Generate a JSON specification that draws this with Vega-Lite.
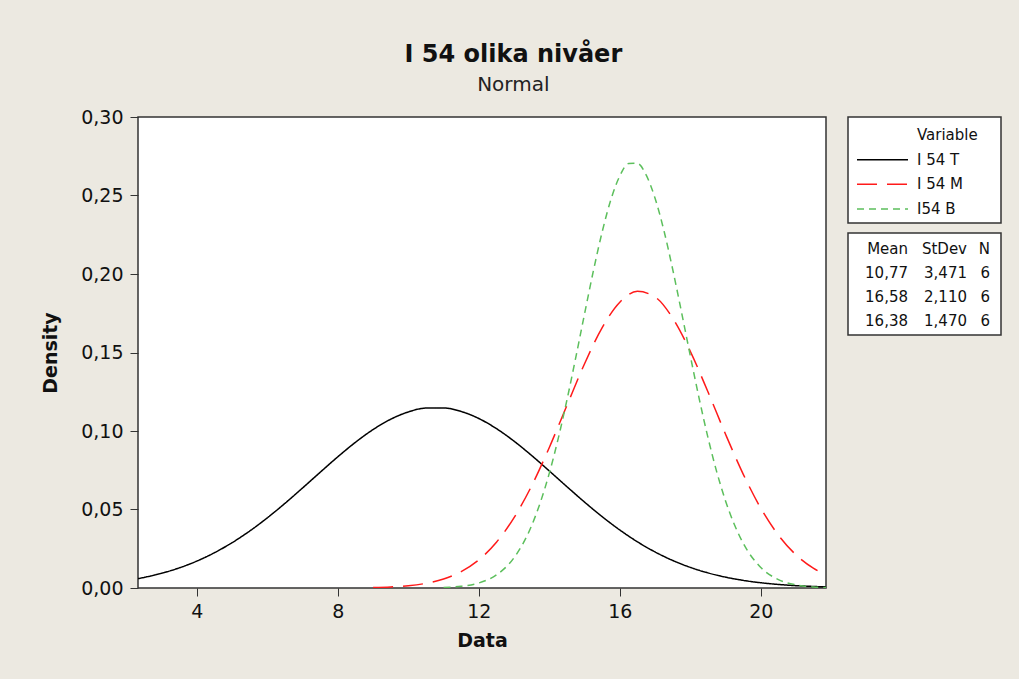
{
  "$schema": "https://vega.github.io/schema/vega-lite/v6.json",
  "background": "#ECE9E1",
  "padding": {"left": 40, "top": 43, "right": 18, "bottom": 32},
  "title": {
    "text": "I 54 olika nivåer",
    "subtitle": "Normal",
    "anchor": "middle",
    "frame": "bounds",
    "dx": -8,
    "offset": 12,
    "font": "DejaVu Sans",
    "fontSize": 24,
    "fontWeight": "bold",
    "color": "#111111",
    "subtitleFont": "DejaVu Sans",
    "subtitleFontSize": 20,
    "subtitleColor": "#222222",
    "subtitlePadding": 8
  },
  "datasets": {
    "curves": [
      {"variable": "I 54 T", "data": 2.33, "density": 0.005977},
      {"variable": "I 54 T", "data": 2.5, "density": 0.006725},
      {"variable": "I 54 T", "data": 3, "density": 0.00938},
      {"variable": "I 54 T", "data": 3.5, "density": 0.012817},
      {"variable": "I 54 T", "data": 4, "density": 0.017156},
      {"variable": "I 54 T", "data": 4.5, "density": 0.022488},
      {"variable": "I 54 T", "data": 5, "density": 0.02887},
      {"variable": "I 54 T", "data": 5.5, "density": 0.0363},
      {"variable": "I 54 T", "data": 6, "density": 0.04471},
      {"variable": "I 54 T", "data": 6.5, "density": 0.053933},
      {"variable": "I 54 T", "data": 7, "density": 0.063726},
      {"variable": "I 54 T", "data": 7.5, "density": 0.073742},
      {"variable": "I 54 T", "data": 8, "density": 0.083596},
      {"variable": "I 54 T", "data": 8.5, "density": 0.09281},
      {"variable": "I 54 T", "data": 9, "density": 0.100929},
      {"variable": "I 54 T", "data": 9.5, "density": 0.1075},
      {"variable": "I 54 T", "data": 10, "density": 0.112147},
      {"variable": "I 54 T", "data": 10.5, "density": 0.114593},
      {"variable": "I 54 T", "data": 11, "density": 0.114687},
      {"variable": "I 54 T", "data": 11.5, "density": 0.112425},
      {"variable": "I 54 T", "data": 12, "density": 0.107944},
      {"variable": "I 54 T", "data": 12.5, "density": 0.101515},
      {"variable": "I 54 T", "data": 13, "density": 0.093506},
      {"variable": "I 54 T", "data": 13.5, "density": 0.08436},
      {"variable": "I 54 T", "data": 14, "density": 0.074546},
      {"variable": "I 54 T", "data": 14.5, "density": 0.064521},
      {"variable": "I 54 T", "data": 15, "density": 0.054698},
      {"variable": "I 54 T", "data": 15.5, "density": 0.045418},
      {"variable": "I 54 T", "data": 16, "density": 0.036938},
      {"variable": "I 54 T", "data": 16.5, "density": 0.029426},
      {"variable": "I 54 T", "data": 17, "density": 0.022959},
      {"variable": "I 54 T", "data": 17.5, "density": 0.017542},
      {"variable": "I 54 T", "data": 18, "density": 0.013128},
      {"variable": "I 54 T", "data": 18.5, "density": 0.009625},
      {"variable": "I 54 T", "data": 19, "density": 0.006911},
      {"variable": "I 54 T", "data": 19.5, "density": 0.004861},
      {"variable": "I 54 T", "data": 20, "density": 0.003349},
      {"variable": "I 54 T", "data": 20.5, "density": 0.00226},
      {"variable": "I 54 T", "data": 21, "density": 0.001493},
      {"variable": "I 54 T", "data": 21.5, "density": 0.000967},
      {"variable": "I 54 T", "data": 21.85, "density": 0.000704},
      {"variable": "I 54 M", "data": 9, "density": 0.000298},
      {"variable": "I 54 M", "data": 9.5, "density": 0.000679},
      {"variable": "I 54 M", "data": 10, "density": 0.001462},
      {"variable": "I 54 M", "data": 10.5, "density": 0.002975},
      {"variable": "I 54 M", "data": 11, "density": 0.005728},
      {"variable": "I 54 M", "data": 11.5, "density": 0.010421},
      {"variable": "I 54 M", "data": 12, "density": 0.017928},
      {"variable": "I 54 M", "data": 12.5, "density": 0.029156},
      {"variable": "I 54 M", "data": 13, "density": 0.044823},
      {"variable": "I 54 M", "data": 13.5, "density": 0.065152},
      {"variable": "I 54 M", "data": 14, "density": 0.089534},
      {"variable": "I 54 M", "data": 14.5, "density": 0.116305},
      {"variable": "I 54 M", "data": 15, "density": 0.142861},
      {"variable": "I 54 M", "data": 15.5, "density": 0.165861},
      {"variable": "I 54 M", "data": 16, "density": 0.182061},
      {"variable": "I 54 M", "data": 16.5, "density": 0.188934},
      {"variable": "I 54 M", "data": 17, "density": 0.185362},
      {"variable": "I 54 M", "data": 17.5, "density": 0.171927},
      {"variable": "I 54 M", "data": 18, "density": 0.150747},
      {"variable": "I 54 M", "data": 18.5, "density": 0.124975},
      {"variable": "I 54 M", "data": 19, "density": 0.097948},
      {"variable": "I 54 M", "data": 19.5, "density": 0.072571},
      {"variable": "I 54 M", "data": 20, "density": 0.050837},
      {"variable": "I 54 M", "data": 20.5, "density": 0.033664},
      {"variable": "I 54 M", "data": 21, "density": 0.021074},
      {"variable": "I 54 M", "data": 21.5, "density": 0.012475},
      {"variable": "I 54 M", "data": 21.85, "density": 0.008355},
      {"variable": "I54 B", "data": 11, "density": 0.000335},
      {"variable": "I54 B", "data": 11.5, "density": 0.001098},
      {"variable": "I54 B", "data": 12, "density": 0.003204},
      {"variable": "I54 B", "data": 12.5, "density": 0.008332},
      {"variable": "I54 B", "data": 13, "density": 0.019301},
      {"variable": "I54 B", "data": 13.5, "density": 0.039819},
      {"variable": "I54 B", "data": 14, "density": 0.073183},
      {"variable": "I54 B", "data": 14.25, "density": 0.094989},
      {"variable": "I54 B", "data": 14.5, "density": 0.119792},
      {"variable": "I54 B", "data": 14.75, "density": 0.146768},
      {"variable": "I54 B", "data": 15, "density": 0.174667},
      {"variable": "I54 B", "data": 15.25, "density": 0.201963},
      {"variable": "I54 B", "data": 15.5, "density": 0.226864},
      {"variable": "I54 B", "data": 15.75, "density": 0.247576},
      {"variable": "I54 B", "data": 16, "density": 0.262472},
      {"variable": "I54 B", "data": 16.25, "density": 0.270332},
      {"variable": "I54 B", "data": 16.5, "density": 0.270489},
      {"variable": "I54 B", "data": 16.75, "density": 0.262928},
      {"variable": "I54 B", "data": 17, "density": 0.248292},
      {"variable": "I54 B", "data": 17.25, "density": 0.227797},
      {"variable": "I54 B", "data": 17.5, "density": 0.203016},
      {"variable": "I54 B", "data": 17.75, "density": 0.175785},
      {"variable": "I54 B", "data": 18, "density": 0.147872},
      {"variable": "I54 B", "data": 18.25, "density": 0.120839},
      {"variable": "I54 B", "data": 18.5, "density": 0.095923},
      {"variable": "I54 B", "data": 18.75, "density": 0.073992},
      {"variable": "I54 B", "data": 19, "density": 0.055442},
      {"variable": "I54 B", "data": 19.5, "density": 0.028539},
      {"variable": "I54 B", "data": 20, "density": 0.013081},
      {"variable": "I54 B", "data": 20.5, "density": 0.005344},
      {"variable": "I54 B", "data": 21, "density": 0.001944},
      {"variable": "I54 B", "data": 21.5, "density": 0.00063},
      {"variable": "I54 B", "data": 21.85, "density": 0.000267}
    ],
    "legend": [
      {"label": "Variable"},
      {"label": "I 54 T", "variable": "I 54 T"},
      {"label": "I 54 M", "variable": "I 54 M"},
      {"label": "I54 B", "variable": "I54 B"}
    ],
    "stats": [
      {"row": "header", "Mean": "Mean", "StDev": "StDev", "N": "N"},
      {"row": "I 54 T", "Mean": "10,77", "StDev": "3,471", "N": "6"},
      {"row": "I 54 M", "Mean": "16,58", "StDev": "2,110", "N": "6"},
      {"row": "I54 B", "Mean": "16,38", "StDev": "1,470", "N": "6"}
    ]
  },
  "bounds": "flush",
  "spacing": 22,
  "hconcat": [
    {
      "width": 688,
      "height": 471,
      "data": {"name": "curves"},
      "mark": {"type": "line", "interpolate": "monotone", "strokeWidth": 1.5, "clip": true},
      "encoding": {
        "x": {
          "field": "data",
          "type": "quantitative",
          "scale": {"domain": [2.33, 21.85], "nice": false, "zero": false},
          "axis": {"title": "Data", "values": [4, 8, 12, 16, 20], "labelFlush": false, "labelPadding": 6, "titlePadding": 10}
        },
        "y": {
          "field": "density",
          "type": "quantitative",
          "scale": {"domain": [0, 0.3], "nice": false},
          "axis": {
            "title": "Density",
            "values": [0, 0.05, 0.1, 0.15, 0.2, 0.25, 0.3],
            "labelFlush": false,
            "labelExpr": "replace(format(datum.value, '.2f'), '.', ',')"
          }
        },
        "color": {
          "field": "variable",
          "type": "nominal",
          "scale": {"domain": ["I 54 T", "I 54 M", "I54 B"], "range": ["#000000", "#ff1a1a", "#5cbf5c"]},
          "legend": null
        },
        "strokeDash": {
          "field": "variable",
          "type": "nominal",
          "scale": {"domain": ["I 54 T", "I 54 M", "I54 B"], "range": [[1, 0], [20, 10], [7, 5]]},
          "legend": null
        }
      }
    },
    {
      "spacing": 8,
      "vconcat": [
        {
          "width": 153,
          "height": 106,
          "data": {"name": "legend"},
          "encoding": {
            "y": {"field": "label", "type": "nominal", "scale": {"type": "point", "domain": ["Variable", "I 54 T", "I 54 M", "I54 B"], "range": [18, 92], "padding": 0}, "axis": null}
          },
          "layer": [
            {
              "transform": [{"filter": "isValid(datum.variable)"}],
              "mark": {"type": "rule", "strokeWidth": 1.5},
              "encoding": {
                "x": {"datum": 9, "type": "quantitative", "scale": {"domain": [0, 153], "nice": false, "zero": false}, "axis": null},
                "x2": {"datum": 60},
                "color": {
                  "field": "variable",
                  "type": "nominal",
                  "scale": {"domain": ["I 54 T", "I 54 M", "I54 B"], "range": ["#000000", "#ff1a1a", "#5cbf5c"]},
                  "legend": null
                },
                "strokeDash": {
                  "field": "variable",
                  "type": "nominal",
                  "scale": {"domain": ["I 54 T", "I 54 M", "I54 B"], "range": [[1, 0], [20, 10], [7, 5]]},
                  "legend": null
                }
              }
            },
            {
              "mark": {"type": "text", "align": "left", "baseline": "middle", "fontSize": 15, "color": "#111111"},
              "encoding": {
                "x": {"datum": 69, "type": "quantitative"},
                "text": {"field": "label"}
              }
            }
          ]
        },
        {
          "width": 153,
          "height": 102,
          "data": {"name": "stats"},
          "encoding": {
            "y": {"field": "row", "type": "nominal", "scale": {"type": "point", "domain": ["header", "I 54 T", "I 54 M", "I54 B"], "range": [16, 88], "padding": 0}, "axis": null}
          },
          "layer": [
            {
              "mark": {"type": "text", "align": "right", "baseline": "middle", "fontSize": 15, "color": "#111111"},
              "encoding": {
                "x": {"datum": 60, "type": "quantitative", "scale": {"domain": [0, 153], "nice": false, "zero": false}, "axis": null},
                "text": {"field": "Mean"}
              }
            },
            {
              "mark": {"type": "text", "align": "right", "baseline": "middle", "fontSize": 15, "color": "#111111"},
              "encoding": {
                "x": {"datum": 119, "type": "quantitative"},
                "text": {"field": "StDev"}
              }
            },
            {
              "mark": {"type": "text", "align": "right", "baseline": "middle", "fontSize": 15, "color": "#111111"},
              "encoding": {
                "x": {"datum": 142, "type": "quantitative"},
                "text": {"field": "N"}
              }
            }
          ]
        }
      ]
    }
  ],
  "config": {
    "font": "DejaVu Sans",
    "view": {"fill": "white", "stroke": "#333333", "strokeWidth": 1.5},
    "axis": {
      "domain": false,
      "grid": false,
      "tickColor": "#333333",
      "tickSize": 8,
      "tickWidth": 1,
      "labelFont": "DejaVu Sans",
      "labelFontSize": 19,
      "labelColor": "#111111",
      "labelPadding": 7,
      "titleFont": "DejaVu Sans",
      "titleFontSize": 19,
      "titleFontWeight": "bold",
      "titleColor": "#111111"
    },
    "axisY": {"titlePadding": 20},
    "text": {"font": "DejaVu Sans"}
  }
}
